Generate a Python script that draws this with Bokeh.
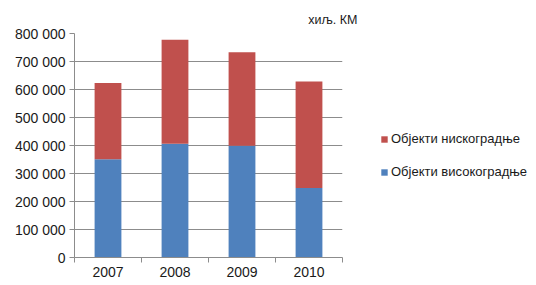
from bokeh.plotting import figure
from bokeh.models import (Range1d, FixedTicker, Legend, LegendItem, Title)
from bokeh.embed import file_html
from bokeh.resources import INLINE

years = ["2007", "2008", "2009", "2010"]
visokogradnja = [351000, 406000, 399000, 248000]
niskogradnja = [272000, 372000, 334000, 381000]
y_ticks = [0, 100000, 200000, 300000, 400000, 500000, 600000, 700000, 800000]
y_labels = ["0", "100 000", "200 000", "300 000", "400 000", "500 000", "600 000", "700 000", "800 000"]
series_names = ["Објекти високоградње", "Објекти нискоградње"]
colors = ["#4F81BD", "#C0504D"]
unit = "хиљ. КМ"

FONT = "Liberation Sans"
TXT = "#1a1a1a"
GRAY = "#8c8c8c"

xs = list(range(1, len(years) + 1))
data = {"x": xs, "v": visokogradnja, "n": niskogradnja}

p = figure(frame_width=268, frame_height=224, output_backend="svg", toolbar_location=None,
           x_range=Range1d(0.5, len(years) + 0.5), y_range=Range1d(0, 800000),
           min_border_left=74, min_border_right=194, min_border_top=33, min_border_bottom=28)
p.outline_line_color = None
p.background_fill_color = "white"

rs = p.vbar_stack(["v", "n"], x="x", width=0.4, color=colors, source=data, line_color=None)

# axes
xa = p.xaxis[0]
xa.ticker = FixedTicker(ticks=xs, minor_ticks=[x - 0.5 for x in xs] + [xs[-1] + 0.5])
xa.major_label_overrides = {x: y for x, y in zip(xs, years)}
xa.major_tick_out = 0
xa.major_tick_in = 0
xa.minor_tick_out = 5
xa.minor_tick_in = 0
xa.minor_tick_line_color = GRAY
xa.axis_line_color = GRAY
xa.major_label_text_font = FONT
xa.major_label_text_font_size = "14px"
xa.major_label_text_color = TXT
xa.major_label_standoff = 4

ya = p.yaxis[0]
ya.ticker = FixedTicker(ticks=y_ticks, minor_ticks=[])
ya.major_label_overrides = {t: l for t, l in zip(y_ticks, y_labels)}
ya.major_tick_out = 5
ya.major_tick_in = 0
ya.major_tick_line_color = GRAY
ya.axis_line_color = GRAY
ya.major_label_text_font = FONT
ya.major_label_text_font_size = "14px"
ya.major_label_text_color = TXT
ya.major_label_standoff = 4

p.xgrid.visible = False
p.ygrid.ticker = FixedTicker(ticks=y_ticks[1:])
p.ygrid.grid_line_color = GRAY
p.ygrid.grid_line_width = 1

# unit title
t = Title(text=unit, align="right", offset=-15, text_font=FONT, text_font_size="12.5px",
          text_font_style="normal", text_color=TXT, standoff=12, vertical_align="middle")
p.add_layout(t, "above")

legend = Legend(items=[LegendItem(label=series_names[1], renderers=[rs[1]]),
                       LegendItem(label=series_names[0], renderers=[rs[0]])],
                location=(38, 78), orientation="vertical",
                glyph_width=8, glyph_height=8, label_standoff=3, spacing=18,
                padding=0, margin=0, border_line_color=None, background_fill_alpha=0,
                label_text_font=FONT, label_text_font_size="13px", label_text_color=TXT)
p.add_layout(legend, "right")

open("out.html", "w").write(file_html(p, INLINE))
